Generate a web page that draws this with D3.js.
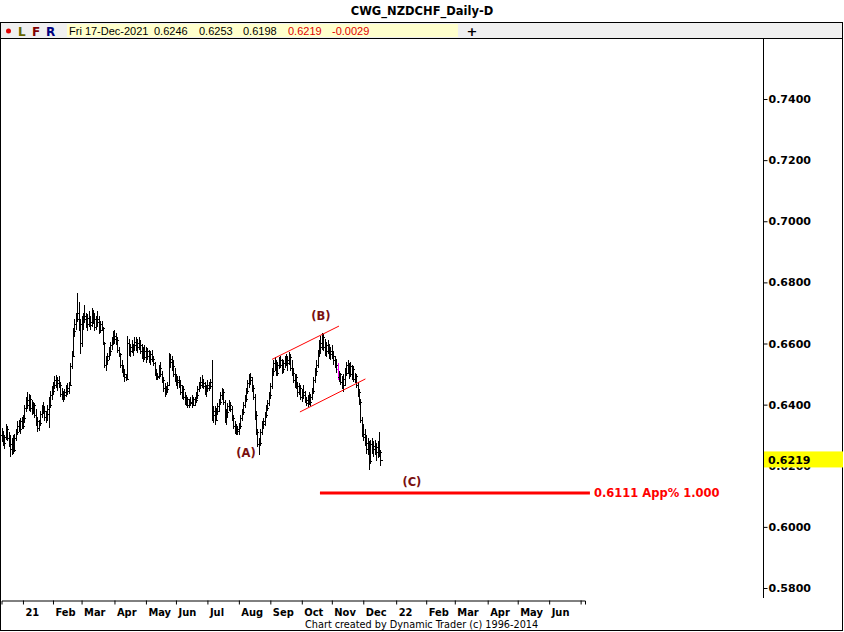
<!DOCTYPE html>
<html><head><meta charset="utf-8">
<script src="https://cdn.jsdelivr.net/npm/d3@7"></script>
<style>body{margin:0;background:#fff;}svg{display:block;}</style>
</head><body>
<svg id="c" width="844" height="632"></svg>
<script>
// ---- data (prices in pips, x 1e-4) ----
const firstDate = new Date(2020, 11, 11);
const opensPips = [
6300,6290,6275,6295,6320,6290,6270,6255,6280,6250,
6290,6310,6330,6320,6345,6330,6355,6390,6415,6400,
6420,6390,6380,6400,6365,6345,6325,6340,6370,6390,
6380,6360,6370,6385,6400,6430,6445,6465,6480,6470,
6480,6465,6435,6425,6430,6440,6455,6445,6465,6525,
6560,6640,6665,6680,6700,6665,6600,6670,6690,6680,
6665,6685,6670,6660,6695,6680,6655,6680,6670,6645,
6665,6650,6600,6530,6545,6560,6575,6595,6610,6625,
6615,6610,6580,6565,6530,6515,6500,6490,6485,6600,
6575,6590,6580,6595,6605,6590,6600,6595,6575,6560,
6575,6555,6575,6560,6550,6565,6550,6535,6505,6490,
6495,6520,6500,6480,6455,6440,6450,6465,6550,6540,
6525,6500,6490,6475,6480,6465,6440,6450,6425,6410,
6420,6400,6410,6405,6420,6400,6415,6430,6450,6465,
6475,6470,6460,6445,6455,6465,6460,6475,6365,6380,
6350,6380,6395,6410,6430,6440,6410,6360,6375,6395,
6400,6385,6355,6330,6315,6320,6315,6330,6355,6375,
6400,6420,6445,6470,6490,6480,6455,6425,6365,6310,
6270,6275,6310,6335,6345,6365,6390,6405,6430,6460,
6510,6535,6525,6505,6530,6545,6530,6515,6535,6550,
6535,6545,6555,6520,6505,6480,6490,6460,6440,6455,
6425,6440,6430,6415,6405,6420,6410,6425,6445,6480,
6510,6530,6570,6600,6590,6620,6590,6575,6595,6580,
6565,6575,6560,6545,6530,6515,6490,6500,6475,6485,
6465,6505,6530,6515,6525,6500,6515,6485,6495,6465,
6440,6410,6350,6305,6295,6275,6255,6270,6215,6270,
6255,6265,6245,6260,6240,6246];
const highsPips = [
6322,6315,6300,6335,6330,6310,6300,6290,6300,6305,
6320,6345,6350,6355,6360,6365,6400,6425,6440,6435,
6430,6415,6410,6405,6385,6360,6350,6380,6400,6410,
6395,6380,6400,6425,6445,6460,6475,6495,6497,6490,
6495,6475,6455,6445,6450,6465,6470,6475,6535,6575,
6650,6680,6700,6765,6735,6680,6690,6700,6726,6700,
6695,6705,6690,6716,6710,6700,6690,6705,6690,6675,
6675,6655,6605,6560,6570,6590,6605,6620,6640,6644,
6635,6620,6590,6570,6545,6530,6515,6500,6625,6615,
6600,6610,6600,6620,6622,6615,6620,6610,6600,6590,
6595,6590,6585,6580,6575,6580,6560,6540,6515,6505,
6530,6540,6510,6490,6470,6460,6475,6569,6565,6560,
6545,6520,6500,6495,6495,6480,6465,6460,6440,6430,
6425,6420,6425,6430,6425,6425,6440,6460,6475,6490,
6497,6485,6475,6465,6480,6475,6485,6546,6395,6395,
6390,6405,6420,6440,6455,6450,6415,6385,6405,6415,
6410,6395,6365,6345,6335,6330,6340,6365,6385,6410,
6430,6455,6480,6500,6503,6490,6465,6435,6380,6320,
6290,6320,6345,6355,6375,6400,6415,6440,6470,6520,
6545,6555,6545,6540,6555,6560,6550,6545,6560,6565,
6560,6572,6565,6545,6520,6500,6500,6475,6470,6465,
6450,6465,6445,6425,6430,6440,6435,6455,6490,6520,
6545,6580,6610,6625,6634,6630,6615,6605,6610,6600,
6590,6595,6575,6560,6550,6535,6510,6505,6495,6500,
6520,6540,6545,6535,6540,6530,6525,6505,6500,6475,
6450,6420,6360,6335,6320,6300,6290,6280,6285,6290,
6280,6285,6275,6280,6310,6253];
const lowsPips = [
6278,6265,6255,6285,6280,6260,6230,6235,6240,6245,
6280,6300,6310,6305,6320,6320,6340,6375,6385,6380,
6375,6365,6370,6355,6330,6310,6315,6330,6355,6370,
6345,6340,6345,6325,6390,6415,6430,6450,6455,6445,
6455,6425,6415,6410,6415,6425,6430,6435,6460,6515,
6555,6620,6645,6670,6640,6565,6590,6645,6670,6650,
6640,6655,6645,6655,6665,6640,6645,6655,6630,6635,
6640,6595,6520,6510,6530,6545,6560,6580,6595,6600,
6595,6570,6555,6520,6505,6490,6475,6478,6480,6560,
6555,6570,6560,6580,6575,6570,6580,6565,6550,6540,
6545,6535,6545,6535,6530,6540,6525,6495,6480,6480,
6485,6490,6470,6440,6425,6430,6440,6460,6520,6510,
6490,6475,6460,6450,6455,6430,6420,6415,6400,6395,
6390,6389,6395,6390,6395,6395,6405,6420,6440,6450,
6455,6450,6430,6425,6440,6445,6450,6345,6340,6333,
6345,6365,6375,6400,6415,6400,6340,6333,6360,6380,
6375,6345,6320,6305,6300,6300,6300,6320,6345,6365,
6390,6410,6435,6455,6465,6440,6415,6350,6300,6260,
6235,6265,6300,6320,6330,6355,6380,6395,6420,6450,
6495,6510,6495,6495,6515,6520,6500,6505,6520,6525,
6510,6530,6510,6495,6470,6455,6450,6425,6430,6415,
6410,6420,6405,6395,6392,6400,6395,6415,6435,6470,
6495,6520,6555,6570,6580,6575,6560,6555,6565,6550,
6545,6550,6530,6520,6505,6480,6475,6465,6450,6440,
6460,6495,6500,6485,6490,6480,6475,6470,6455,6425,
6400,6340,6295,6280,6265,6240,6235,6186,6205,6240,
6230,6235,6215,6225,6230,6198];
const closesPips = [
6290,6275,6295,6320,6290,6270,6255,6280,6250,6290,
6310,6330,6320,6345,6330,6355,6390,6415,6400,6420,
6390,6380,6400,6365,6345,6325,6340,6370,6390,6380,
6360,6370,6385,6400,6430,6445,6465,6480,6470,6480,
6465,6435,6425,6430,6440,6455,6445,6465,6525,6560,
6640,6665,6680,6700,6665,6600,6670,6690,6680,6665,
6685,6670,6660,6695,6680,6655,6680,6670,6645,6665,
6650,6600,6530,6545,6560,6575,6595,6610,6625,6615,
6610,6580,6565,6530,6515,6500,6490,6485,6600,6575,
6590,6580,6595,6605,6590,6600,6595,6575,6560,6575,
6555,6575,6560,6550,6565,6550,6535,6505,6490,6495,
6520,6500,6480,6455,6440,6450,6465,6550,6540,6525,
6500,6490,6475,6480,6465,6440,6450,6425,6410,6420,
6400,6410,6405,6420,6400,6415,6430,6450,6465,6475,
6470,6460,6445,6455,6465,6460,6475,6365,6380,6350,
6380,6395,6410,6430,6440,6410,6360,6375,6395,6400,
6385,6355,6330,6315,6320,6315,6330,6355,6375,6400,
6420,6445,6470,6490,6480,6455,6425,6365,6310,6270,
6275,6310,6335,6345,6365,6390,6405,6430,6460,6510,
6535,6525,6505,6530,6545,6530,6515,6535,6550,6535,
6545,6555,6520,6505,6480,6490,6460,6440,6455,6425,
6440,6430,6415,6405,6420,6410,6425,6445,6480,6510,
6530,6570,6600,6590,6620,6590,6575,6595,6580,6565,
6575,6560,6545,6530,6515,6490,6500,6475,6485,6465,
6505,6530,6515,6525,6500,6515,6485,6495,6465,6440,
6410,6350,6305,6295,6275,6255,6270,6215,6270,6255,
6265,6245,6260,6240,6246,6219];
const highlightBars = [235];                 // magenta bar
const priceTicks = [0.58, 0.60, 0.62, 0.64, 0.66, 0.68, 0.70, 0.72, 0.74];
const monthLabels = ["21","Feb","Mar","Apr","May","Jun","Jul","Aug","Sep","Oct","Nov","Dec","22","Feb","Mar","Apr","May","Jun",""];
const lastBar = {date:"Fri 17-Dec-2021", open:0.6246, high:0.6253, low:0.6198, close:0.6219, change:-0.0029};
const target = {price:0.6111, label:"0.6111 App% 1.000", fromIdx:222.7, toIdx:411.5};
const channelUpper = [[189.2, 0.6548], [236.0, 0.6657]];
const channelLower = [[208.7, 0.6376], [254.5, 0.6484]];
const waveLabels = [
  {text:"(A)", idx:171.0, price:0.6243},
  {text:"(B)", idx:223.4, price:0.6691},
  {text:"(C)", idx:287.0, price:0.6147}
];

// ---- build ----
const BOLD = "'DejaVu Sans', Verdana, sans-serif";
const COND = "'DejaVu Sans Condensed', 'DejaVu Sans', sans-serif";
const REG = "'Liberation Sans', Arial, sans-serif";
const P = v => v/10000;
const N = closesPips.length;
const allDays = d3.timeDay.range(firstDate, new Date(2022, 6, 9)).filter(d => d.getDay() !== 0 && d.getDay() !== 6);
const monthStarts = [];
allDays.forEach((d,i) => { if (i>0 && d.getMonth() !== allDays[i-1].getMonth() && d >= new Date(2021,0,1)) monthStarts.push(i); });
const axisEndIdx = 408.06;
const ticksIdx = monthStarts.filter(i => i <= axisEndIdx).slice(0, monthLabels.length);

const svg = d3.select("#c");
const W = 844, H = 632;
const x = d3.scaleLinear().domain([0, axisEndIdx]).range([1.5, 585]);
const y = d3.scaleLinear().domain([0.58, 0.74]).range([588, 99]);
const T = (sel) => sel.append("text");

// header
svg.append("rect").attr("x",0).attr("y",0).attr("width",W).attr("height",H).attr("fill","#fff");
T(svg).attr("x",422).attr("y",15).attr("text-anchor","middle").style("font-family",BOLD)
  .style("font-size","11.5px").style("font-weight","bold").text("CWG_NZDCHF_Daily-D");
svg.append("rect").attr("x",0.5).attr("y",22.5).attr("width",842).attr("height",16).attr("fill","#f0f0f0").attr("stroke","#000");
svg.append("rect").attr("x",67).attr("y",24).attr("width",391).attr("height",13).attr("fill","#ffffcc");
svg.append("circle").attr("cx",8.5).attr("cy",31).attr("r",2.5).attr("fill","#e00000");
[["L",18,"#666600"],["F",32,"#800000"],["R",46,"#000080"]].forEach(([t,xx,c]) =>
  T(svg).attr("x",xx).attr("y",35.5).style("font-family",BOLD).style("font-size","12px").style("font-weight","bold").attr("fill",c).text(t));
const fmt4 = d3.format(".4f");
const info = [[lastBar.date,69,"#000"],[fmt4(lastBar.open),154,"#000"],[fmt4(lastBar.high),199,"#000"],[fmt4(lastBar.low),243,"#000"],
  [fmt4(lastBar.close),288,"#e00000"],[fmt4(lastBar.change).replace("\u2212","-"),332,"#e00000"]];
info.forEach(([t,xx,c]) => T(svg).attr("x",xx).attr("y",35).style("font-family",REG)
  .style("font-size","11px").attr("fill",c).text(t));
T(svg).attr("x",472).attr("y",36).attr("text-anchor","middle").style("font-family",BOLD).style("font-size","13px").style("font-weight","bold").text("+");

// frame
svg.append("line").attr("x1",0.5).attr("x2",0.5).attr("y1",22).attr("y2",631).attr("stroke","#000");
svg.append("line").attr("x1",842.5).attr("x2",842.5).attr("y1",22).attr("y2",631).attr("stroke","#000");
svg.append("line").attr("x1",0).attr("x2",843).attr("y1",630.5).attr("y2",630.5).attr("stroke","#000");

// price axis
svg.append("line").attr("x1",763.5).attr("x2",763.5).attr("y1",39).attr("y2",598).attr("stroke","#000");
const yAxis = svg.append("g").attr("transform","translate(763.5,0)")
  .call(d3.axisRight(y).tickValues(priceTicks).tickSize(4).tickPadding(1).tickFormat(fmt4));
yAxis.select(".domain").remove();
yAxis.selectAll("text").style("font-size","11px").style("font-weight","bold").style("font-family",BOLD).attr("fill","#000");
yAxis.selectAll("line").attr("stroke","#000");

// last price box
const yl = y(lastBar.close);
svg.append("rect").attr("x",764).attr("y",yl-8.5).attr("width",79).attr("height",16).attr("fill","#ffff00");
T(svg).attr("x",768).attr("y",yl).attr("dy","0.35em").style("font-family",BOLD).style("font-size","11px").style("font-weight","bold").text(fmt4(lastBar.close));

// date axis
const xAxis = svg.append("g").attr("transform","translate(0,600.5)")
  .call(d3.axisBottom(x).tickValues(ticksIdx).tickSize(4).tickSizeOuter(4).tickFormat((d,i) => monthLabels[i]));
xAxis.selectAll("text").attr("text-anchor","start").attr("x",2).attr("y",8)
  .style("font-size","11px").style("font-weight","bold").style("font-family",COND).attr("fill","#000");
xAxis.select(".domain").attr("stroke","#000");
xAxis.selectAll("line").attr("stroke","#000");
T(svg).attr("x",305).attr("y",628).style("font-family",COND).style("font-size","10.8px")
  .text("Chart created by Dynamic Trader  (c) 1996-2014");

// OHLC bars
const bars = svg.append("g").attr("shape-rendering","crispEdges");
d3.range(N).forEach(i => {
  const cx = Math.round(x(i)) + 0.5;
  const col = highlightBars.includes(i) ? "#ff00ff" : "#000";
  const yo = Math.round(y(P(opensPips[i]))) + 0.5, yc = Math.round(y(P(closesPips[i]))) + 0.5;
  bars.append("line").attr("x1",cx).attr("x2",cx).attr("y1",y(P(highsPips[i]))).attr("y2",y(P(lowsPips[i]))).attr("stroke",col);
  bars.append("line").attr("x1",cx-2).attr("x2",cx).attr("y1",yo).attr("y2",yo).attr("stroke",col);
  bars.append("line").attr("x1",cx).attr("x2",cx+2).attr("y1",yc).attr("y2",yc).attr("stroke",col);
});

// channel lines
[channelUpper, channelLower].forEach(seg =>
  svg.append("line").attr("x1",x(seg[0][0])).attr("y1",y(seg[0][1])).attr("x2",x(seg[1][0])).attr("y2",y(seg[1][1]))
    .attr("stroke","#ff0000").attr("stroke-width",1));

// target line
svg.append("line").attr("x1",x(target.fromIdx)).attr("x2",x(target.toIdx)).attr("y1",y(target.price)).attr("y2",y(target.price))
  .attr("stroke","#ff0000").attr("stroke-width",3);
T(svg).attr("x",x(target.toIdx)+4).attr("y",y(target.price)).attr("dy","0.35em")
  .style("font-family",BOLD).style("font-size","11.5px").style("font-weight","bold").attr("fill","#ff0000").text(target.label);

// wave labels
waveLabels.forEach(w => T(svg).attr("x",x(w.idx)).attr("y",y(w.price)).attr("dy","0.35em").attr("text-anchor","middle")
  .style("font-family",BOLD).style("font-size","11.5px").style("font-weight","bold").attr("fill","#7a1010").text(w.text));
</script>
</body></html>
